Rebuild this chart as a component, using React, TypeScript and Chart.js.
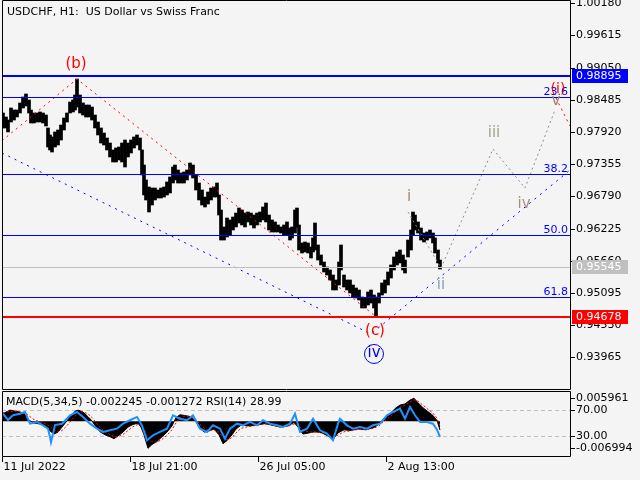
import React, { useEffect, useRef } from 'react';
import { Chart, registerables } from 'chart.js';
Chart.register(...registerables);

const FONT = '"DejaVu Sans", sans-serif';
const BG = '#f4f4f4';

const chartTitle = 'USDCHF, H1:  US Dollar vs Swiss Franc';
const indicatorTitle = 'MACD(5,34,5) -0.002245 -0.001272 RSI(14) 28.99';

// ---- price samples (bar index, high, low) ----
const priceBar = [
  1, 4, 6, 9, 12, 15, 18, 21, 24, 27,
  29, 32, 35, 38, 41, 44, 46, 48, 50, 53,
  56, 59, 62, 65, 68, 71, 73, 75, 78, 81,
  84, 87, 90, 93, 96, 99, 102, 105, 108, 111,
  114, 117, 120, 123, 126, 129, 132, 135, 138, 140,
  142, 144, 147, 150, 153, 156, 159, 162, 165, 168,
  171, 173, 176, 179, 182, 185, 188, 191, 194, 197,
  200, 203, 206, 209, 212, 215, 217, 219, 222, 225,
  228, 231, 234, 237, 240, 243, 246, 249, 252, 255,
  258, 261, 264, 267, 270, 273, 276, 279, 282, 285,
  288, 290, 293, 295, 297, 300, 303, 306, 309, 311,
  313, 316, 319, 322, 325, 328, 331, 334, 337, 339,
  342, 345, 348, 351, 354, 357, 360, 363, 366, 369,
  372, 374, 377, 380, 383, 386, 389, 392, 395, 398,
  401, 403, 406, 409, 411, 413, 416, 419, 422, 425,
  428, 431, 433, 436, 438,
];
const priceHigh = [
  0.98254, 0.98184, 0.98131, 0.98342, 0.98307, 0.98307, 0.98430, 0.98535, 0.98588, 0.98482,
  0.98307, 0.98254, 0.98254, 0.98272, 0.98254, 0.98219, 0.97991, 0.97868, 0.97833, 0.97921,
  0.97956, 0.98043, 0.98166, 0.98254, 0.98447, 0.98482, 0.98570, 0.98851, 0.98570, 0.98430,
  0.98394, 0.98394, 0.98359, 0.98219, 0.98096, 0.97991, 0.97903, 0.97815, 0.97727, 0.97605,
  0.97640, 0.97657, 0.97727, 0.97780, 0.97727, 0.97780, 0.97833, 0.97868, 0.97815, 0.97605,
  0.97341, 0.97078, 0.96955, 0.96937, 0.96937, 0.96902, 0.96937, 0.96955, 0.97043, 0.97131,
  0.97306, 0.97341, 0.97253, 0.97201, 0.97218, 0.97253, 0.97376, 0.97341, 0.97166, 0.97025,
  0.96902, 0.96779, 0.96867, 0.96937, 0.96955, 0.97025, 0.96815, 0.96551, 0.96253, 0.96411,
  0.96376, 0.96428, 0.96498, 0.96586, 0.96551, 0.96498, 0.96516, 0.96498, 0.96463, 0.96498,
  0.96516, 0.96604, 0.96674, 0.96463, 0.96376, 0.96341, 0.96288, 0.96253, 0.96288, 0.96341,
  0.96235, 0.96253, 0.96551, 0.96586, 0.96288, 0.95972, 0.95989, 0.95972, 0.95902, 0.96060,
  0.96323, 0.95937, 0.95761, 0.95638, 0.95550, 0.95498, 0.95410, 0.95322, 0.95638, 0.95937,
  0.95410, 0.95322, 0.95322, 0.95234, 0.95182, 0.95147, 0.95024, 0.95006, 0.95112, 0.95147,
  0.95059, 0.95024, 0.95094, 0.95270, 0.95322, 0.95463, 0.95586, 0.95726, 0.95814, 0.95849,
  0.95761, 0.95673, 0.96024, 0.96200, 0.96516, 0.96463, 0.96341, 0.96235, 0.96147, 0.96165,
  0.96200, 0.96147, 0.96060, 0.95849, 0.95673,
];
const priceLow = [
  0.97991, 0.97991, 0.97921, 0.98096, 0.98131, 0.98184, 0.98254, 0.98342, 0.98377, 0.98254,
  0.98079, 0.98079, 0.98096, 0.98096, 0.98079, 0.98026, 0.97657, 0.97605, 0.97569, 0.97657,
  0.97692, 0.97780, 0.97956, 0.98096, 0.98254, 0.98272, 0.98307, 0.98359, 0.98254, 0.98219,
  0.98184, 0.98184, 0.98131, 0.97991, 0.97868, 0.97727, 0.97692, 0.97605, 0.97482, 0.97394,
  0.97394, 0.97429, 0.97394, 0.97306, 0.97482, 0.97552, 0.97640, 0.97692, 0.97605, 0.97166,
  0.96815, 0.96727, 0.96516, 0.96639, 0.96727, 0.96762, 0.96762, 0.96779, 0.96815, 0.96850,
  0.97025, 0.97078, 0.97025, 0.97025, 0.97025, 0.97078, 0.97166, 0.97113, 0.96902, 0.96727,
  0.96639, 0.96604, 0.96656, 0.96727, 0.96779, 0.96779, 0.96463, 0.96024, 0.96024, 0.96077,
  0.96112, 0.96200, 0.96253, 0.96323, 0.96288, 0.96253, 0.96341, 0.96288, 0.96235, 0.96288,
  0.96341, 0.96376, 0.96341, 0.96200, 0.96165, 0.96165, 0.96165, 0.96147, 0.96112, 0.96112,
  0.96024, 0.96060, 0.96147, 0.96253, 0.95849, 0.95796, 0.95814, 0.95796, 0.95708, 0.95814,
  0.95849, 0.95673, 0.95586, 0.95463, 0.95410, 0.95322, 0.95147, 0.95147, 0.95234, 0.95498,
  0.95199, 0.95147, 0.95094, 0.95024, 0.95006, 0.94971, 0.94831, 0.94831, 0.94883, 0.94918,
  0.94831, 0.94678, 0.94918, 0.95059, 0.95094, 0.95234, 0.95357, 0.95498, 0.95586, 0.95621,
  0.95498, 0.95445, 0.95726, 0.95849, 0.96112, 0.96200, 0.96147, 0.96024, 0.95989, 0.96024,
  0.96060, 0.95972, 0.95796, 0.95621, 0.95515,
];

// ---- axes ----
const priceTicks = [1.0018, 0.99615, 0.9905, 0.98485, 0.9792, 0.97355, 0.9679, 0.96225, 0.9566, 0.95095, 0.9453, 0.93965];
const priceMin = 0.934085;
const priceMax = 1.002379;
const barMax = 568;
const timeTickBars = [0, 128, 256, 384];
const timeTickLabels = ['11 Jul 2022', '18 Jul 21:00', '26 Jul 05:00', '2 Aug 13:00'];

// ---- levels ----
const resistanceLevel = 0.98895;
const supportLevel = 0.94678;
const lastPrice = 0.95545;
const fibLevels = [0.9853, 0.97188, 0.96104, 0.95019];
const fibLabels = ['23.6', '38.2', '50.0', '61.8'];

// ---- wave lines ----
const redWaveBars = [0, 75, 374];
const redWavePrices = [0.97768, 0.98851, 0.94678];
const redNextBars = [554, 568];
const redNextPrices = [0.98517, 0.98026];
const blueWaveBars = [0, 369, 568];
const blueWavePrices = [0.97552, 0.94374, 0.97253];
const grayWaveBars = [406, 439, 491, 523, 553];
const grayWavePrices = [0.96516, 0.95533, 0.97622, 0.96937, 0.98307];

const waveLabels = ['(b)', '(c)', 'iv', 'i', 'ii', 'iii', 'iv', 'v', '(i)'];
const waveLabelBars = [74, 373, 372, 407, 439, 492, 522, 554, 556];
const waveLabelPrices = [0.99114, 0.94427, 0.94041, 0.96779, 0.95234, 0.97903, 0.96656, 0.98465, 0.98675];
const waveLabelColors = ['#ff0000', '#ff0000', '#0000ff', '#a08878', '#8ea0b8', '#a0a48c', '#a89080', '#a08878', '#ff0000'];
const circledLabel = 2;

// ---- indicator ----
const macdBar = [
  1, 8, 16, 23, 26, 31, 38, 43, 48, 52,
  56, 60, 64, 68, 73, 76, 81, 86, 90, 94,
  98, 103, 108, 112, 116, 121, 126, 131, 136, 139,
  142, 146, 150, 155, 160, 165, 170, 174, 178, 183,
  188, 193, 197, 202, 207, 212, 217, 221, 225, 230,
  234, 239, 248, 256, 263, 270, 278, 286, 292, 296,
  301, 307, 313, 320, 326, 331, 336, 342, 348, 356,
  364, 372, 378, 382, 388, 394, 398, 403, 408, 412,
  416, 421, 426, 431, 435, 438,
];
const macdValue = [
  0.0020, 0.0029, 0.0025, 0.0020, 0.0005, -0.0004, -0.0007, -0.0010, -0.0025, -0.0033,
  -0.0028, -0.0015, -0.0002, 0.0012, 0.0026, 0.0029, 0.0024, 0.0012, 0.0001, -0.0015,
  -0.0027, -0.0035, -0.0040, -0.0045, -0.0038, -0.0028, -0.0015, -0.0008, -0.0005, -0.0015,
  -0.0035, -0.0070, -0.0060, -0.0052, -0.0040, -0.0028, -0.0012, 0.0010, 0.0017, 0.0015,
  0.0012, 0.0003, -0.0015, -0.0028, -0.0025, -0.0020, -0.0035, -0.0058, -0.0050, -0.0035,
  -0.0020, -0.0010, -0.0012, -0.0009, -0.0006, -0.0010, -0.0015, -0.0012, -0.0003, -0.0015,
  -0.0033, -0.0030, -0.0027, -0.0030, -0.0038, -0.0047, -0.0030, -0.0022, -0.0024, -0.0020,
  -0.0022, -0.0016, -0.0005, 0.0008, 0.0020, 0.0035, 0.0042, 0.0045, 0.0055, 0.0060,
  0.0048, 0.0035, 0.0025, 0.0015, 0.0002, -0.002245,
];
const signalValue = [
  0.0022, 0.0026, 0.0026, 0.0022, 0.0016, 0.0006, -0.0002, -0.0006, -0.0013, -0.0022,
  -0.0027, -0.0024, -0.0014, -0.0002, 0.0014, 0.0022, 0.0025, 0.0019, 0.0010, -0.0003,
  -0.0016, -0.0027, -0.0035, -0.0040, -0.0040, -0.0034, -0.0024, -0.0014, -0.0008, -0.0010,
  -0.0020, -0.0042, -0.0053, -0.0054, -0.0047, -0.0036, -0.0022, -0.0004, 0.0010, 0.0014,
  0.0013, 0.0007, -0.0005, -0.0018, -0.0024, -0.0022, -0.0028, -0.0042, -0.0048, -0.0042,
  -0.0030, -0.0018, -0.0013, -0.0010, -0.0007, -0.0009, -0.0013, -0.0013, -0.0007, -0.0010,
  -0.0022, -0.0028, -0.0028, -0.0029, -0.0034, -0.0042, -0.0036, -0.0027, -0.0025, -0.0021,
  -0.0021, -0.0018, -0.0010, 0.0000, 0.0012, 0.0026, 0.0036, 0.0042, 0.0050, 0.0056,
  0.0052, 0.0042, 0.0031, 0.0021, 0.0008, -0.001272,
];
const rsiBar = [
  1, 6, 11, 18, 23, 28, 35, 41, 46, 48,
  49, 53, 60, 68, 75, 81, 88, 95, 101, 108,
  115, 121, 128, 135, 140, 145, 151, 158, 165, 171,
  178, 185, 191, 198, 205, 211, 218, 223, 228, 235,
  241, 248, 255, 261, 268, 275, 281, 288, 293, 298,
  305, 311, 318, 325, 331, 336, 338, 345, 351, 358,
  365, 371, 378, 385, 391, 398, 403, 408, 413, 418,
  425, 431, 435, 438,
];
const rsiValue = [
  64.4, 54.8, 62.0, 64.4, 67.0, 49.2, 51.8, 46.7, 41.6, 29.0,
  21.0, 47.0, 49.0, 62.0, 67.0, 59.4, 49.2, 41.6, 36.6, 39.1,
  41.6, 49.2, 54.4, 59.4, 46.7, 23.9, 31.5, 36.6, 41.6, 62.0,
  56.8, 54.4, 62.0, 41.6, 36.6, 46.7, 41.6, 26.4, 41.6, 49.2,
  46.7, 51.8, 46.7, 54.4, 49.2, 46.7, 44.2, 49.2, 64.4, 36.6,
  41.6, 56.8, 39.1, 34.0, 23.9, 49.2, 56.8, 46.7, 41.6, 44.2,
  41.6, 46.7, 49.2, 62.0, 67.0, 72.0, 56.8, 74.6, 62.0, 51.8,
  51.8, 49.2, 40.0, 28.99,
];
const macdMin = -0.008989;
const macdMax = 0.007593;
const macdTicks = [0.005961, -0.006994];
const macdTickLabels = ['0.005961', '-0.006994'];
const rsiMin = 0;
const rsiMax = 97.4;
const rsiLevels = [70, 30];
const rsiLevelLabels = ['70.00', '30.00'];

const pts = (xs: number[], ys: number[]) => xs.map((x, i) => ({ x, y: ys[i] }));

const crisp = (v: number) => Math.round(v) + 0.5;

const mainDecor = {
  id: 'mainDecor',
  afterDatasetsDraw(chart: any) {
    const { ctx, chartArea: a, scales } = chart;
    const xs = scales.x;
    const ys = scales.y;
    ctx.save();
    ctx.beginPath();
    ctx.rect(a.left, a.top, a.right - a.left, a.bottom - a.top);
    ctx.clip();
    const hline = (v: number, color: string, w: number) => {
      const py = ys.getPixelForValue(v);
      const yy = w % 2 ? crisp(py) : Math.round(py);
      ctx.strokeStyle = color;
      ctx.lineWidth = w;
      ctx.setLineDash([]);
      ctx.beginPath();
      ctx.moveTo(a.left, yy);
      ctx.lineTo(a.right, yy);
      ctx.stroke();
    };
    hline(lastPrice, '#c0c0c0', 1);
    fibLevels.forEach((v) => hline(v, '#0000ff', 1));
    hline(resistanceLevel, '#0000ff', 2);
    hline(supportLevel, '#ff0000', 2);

    ctx.font = `11px ${FONT}`;
    ctx.fillStyle = '#0000ff';
    ctx.textAlign = 'right';
    ctx.textBaseline = 'alphabetic';
    fibLevels.forEach((v, i) => {
      ctx.fillText(fibLabels[i], a.right - 2, Math.round(ys.getPixelForValue(v)) - 2);
    });

    ctx.textAlign = 'center';
    ctx.textBaseline = 'middle';
    waveLabels.forEach((t, i) => {
      const px = xs.getPixelForValue(waveLabelBars[i]);
      const py = ys.getPixelForValue(waveLabelPrices[i]);
      ctx.font = `${i === 8 ? 14 : 15}px ${FONT}`;
      ctx.fillStyle = waveLabelColors[i];
      ctx.fillText(t, px, py);
      if (i === circledLabel) {
        ctx.strokeStyle = waveLabelColors[i];
        ctx.lineWidth = 1;
        ctx.beginPath();
        ctx.arc(px, py + 1, 9.5, 0, Math.PI * 2);
        ctx.stroke();
      }
    });

    ctx.font = `11px ${FONT}`;
    ctx.fillStyle = '#000000';
    ctx.textAlign = 'left';
    ctx.textBaseline = 'middle';
    ctx.fillText(chartTitle, 7, 12);
    ctx.restore();

    // frame
    ctx.save();
    ctx.strokeStyle = '#000000';
    ctx.lineWidth = 1;
    ctx.beginPath();
    ctx.moveTo(a.left + 0.5, 0.5);
    ctx.lineTo(a.right + 0.5, 0.5);
    ctx.lineTo(a.right + 0.5, a.bottom + 0.5);
    ctx.lineTo(a.left + 0.5, a.bottom + 0.5);
    ctx.closePath();
    ctx.stroke();

    // right axis
    ctx.font = `11px ${FONT}`;
    ctx.textAlign = 'left';
    ctx.textBaseline = 'middle';
    ctx.fillStyle = '#000000';
    priceTicks.forEach((v) => {
      const yy = crisp(ys.getPixelForValue(v));
      ctx.beginPath();
      ctx.moveTo(a.right, yy);
      ctx.lineTo(a.right + 5, yy);
      ctx.stroke();
      ctx.fillText(v.toFixed(5), a.right + 6, yy);
    });
    const tag = (v: number, bg: string) => {
      const yy = Math.round(ys.getPixelForValue(v));
      ctx.fillStyle = bg;
      ctx.fillRect(a.right + 2, yy - 7, 56, 14);
      ctx.fillStyle = '#ffffff';
      ctx.fillText(v.toFixed(5), a.right + 6, yy);
    };
    tag(resistanceLevel, '#0000ff');
    tag(lastPrice, '#c0c0c0');
    tag(supportLevel, '#ff0000');
    ctx.restore();
  },
};

const indDecor = {
  id: 'indDecor',
  beforeDatasetsDraw(chart: any) {
    const { ctx, chartArea: a, scales } = chart;
    ctx.save();
    ctx.strokeStyle = '#c0c0c0';
    ctx.lineWidth = 1;
    ctx.setLineDash([4, 3]);
    rsiLevels.forEach((v) => {
      const yy = crisp(scales.yRsi.getPixelForValue(v));
      ctx.beginPath();
      ctx.moveTo(a.left, yy);
      ctx.lineTo(a.right, yy);
      ctx.stroke();
    });
    ctx.restore();
  },
  afterDraw(chart: any) {
    const { ctx, chartArea: a, scales } = chart;
    ctx.save();
    ctx.strokeStyle = '#000000';
    ctx.lineWidth = 1;
    ctx.setLineDash([]);
    ctx.beginPath();
    ctx.rect(a.left + 0.5, 1.5, a.right - a.left, a.bottom - 1);
    ctx.stroke();

    ctx.font = `11px ${FONT}`;
    ctx.fillStyle = '#000000';
    ctx.textAlign = 'left';
    ctx.textBaseline = 'middle';
    ctx.fillText(indicatorTitle, 6, 12);

    const rightLabel = (py: number, t: string) => {
      const yy = crisp(py);
      ctx.beginPath();
      ctx.moveTo(a.right, yy);
      ctx.lineTo(a.right + 5, yy);
      ctx.stroke();
      ctx.fillText(t, a.right + 6, yy);
    };
    macdTicks.forEach((v, i) => rightLabel(scales.yMacd.getPixelForValue(v), macdTickLabels[i]));
    rsiLevels.forEach((v, i) => rightLabel(scales.yRsi.getPixelForValue(v), rsiLevelLabels[i]));

    timeTickBars.forEach((b, i) => {
      const xx = crisp(scales.x.getPixelForValue(b));
      ctx.beginPath();
      ctx.moveTo(xx, a.bottom + 0.5);
      ctx.lineTo(xx, a.bottom + 6);
      ctx.stroke();
      ctx.fillText(timeTickLabels[i], xx + 1, a.bottom + 11);
    });
    ctx.restore();
  },
};

export default function App() {
  const mainRef = useRef<HTMLCanvasElement>(null);
  const indRef = useRef<HTMLCanvasElement>(null);

  useEffect(() => {
    const dotted = (data: any[], color: string, dash: number[]) => ({
      type: 'line' as const,
      data,
      borderColor: color,
      borderWidth: 1,
      borderDash: dash,
      pointRadius: 0,
      fill: false,
      tension: 0,
      order: 1,
    });
    const main = new Chart(mainRef.current as HTMLCanvasElement, {
      type: 'bar',
      data: {
        datasets: [
          {
            type: 'bar',
            data: priceBar.map((x, i) => ({ x, y: [priceLow[i], priceHigh[i]] })) as any,
            backgroundColor: '#000000',
            borderWidth: 0,
            barThickness: 3,
            order: 10,
          } as any,
          dotted(pts(redWaveBars, redWavePrices), '#ff0000', [2, 4]),
          dotted(pts(redNextBars, redNextPrices), '#ff0000', [2, 4]),
          dotted(pts(blueWaveBars, blueWavePrices), '#0000ff', [2, 5]),
          dotted(pts(grayWaveBars, grayWavePrices), '#8c8c8c', [2, 3]),
        ],
      },
      options: {
        animation: false,
        responsive: false,
        events: [],
        layout: { padding: { left: 2, right: 70, top: 0, bottom: 1 } },
        plugins: { legend: { display: false }, tooltip: { enabled: false } },
        scales: {
          x: { type: 'linear', min: 0, max: barMax, display: false, offset: false },
          y: { type: 'linear', min: priceMin, max: priceMax, display: false },
        },
      },
      plugins: [mainDecor],
    } as any);

    const ind = new Chart(indRef.current as HTMLCanvasElement, {
      type: 'line',
      data: {
        datasets: [
          {
            data: pts(macdBar, macdValue),
            yAxisID: 'yMacd',
            borderColor: '#000000',
            backgroundColor: '#000000',
            borderWidth: 1,
            pointRadius: 0,
            fill: 'origin',
            tension: 0,
            order: 3,
          },
          {
            data: pts(macdBar, signalValue),
            yAxisID: 'yMacd',
            borderColor: '#ff0000',
            borderWidth: 1,
            borderDash: [2, 2],
            pointRadius: 0,
            fill: false,
            tension: 0,
            order: 2,
          },
          {
            data: pts(rsiBar, rsiValue),
            yAxisID: 'yRsi',
            borderColor: '#1e90ff',
            borderWidth: 2,
            pointRadius: 0,
            fill: false,
            tension: 0,
            order: 1,
          },
        ],
      },
      options: {
        animation: false,
        responsive: false,
        events: [],
        layout: { padding: { left: 2, right: 70, top: 2, bottom: 24 } },
        plugins: { legend: { display: false }, tooltip: { enabled: false } },
        scales: {
          x: { type: 'linear', axis: 'x', min: 0, max: barMax, display: false },
          yMacd: { type: 'linear', axis: 'y', min: macdMin, max: macdMax, display: false },
          yRsi: { type: 'linear', axis: 'y', min: rsiMin, max: rsiMax, display: false },
        },
      },
      plugins: [indDecor],
    } as any);

    return () => {
      main.destroy();
      ind.destroy();
    };
  }, []);

  return (
    <div style={{ position: 'fixed', left: 0, top: 0, width: 640, height: 480, background: BG, overflow: 'hidden' }}>
      <canvas ref={mainRef} width={640} height={390} style={{ position: 'absolute', left: 0, top: 0, display: 'block' }} />
      <canvas ref={indRef} width={640} height={90} style={{ position: 'absolute', left: 0, top: 390, display: 'block' }} />
    </div>
  );
}
